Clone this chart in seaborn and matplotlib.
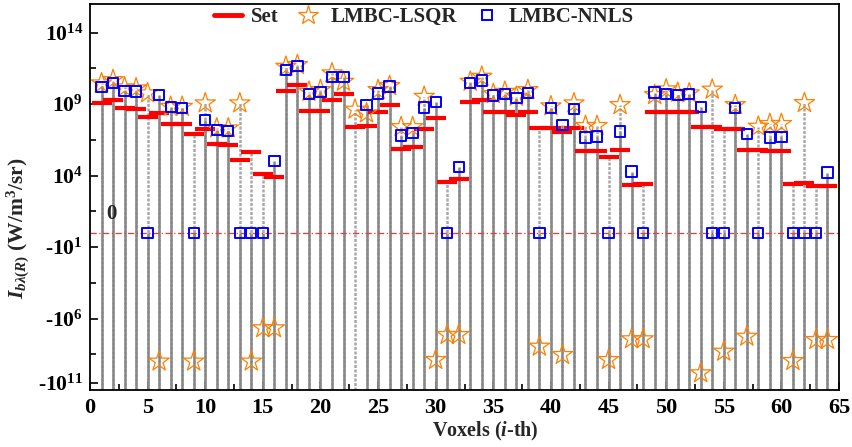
import numpy as np
import pandas as pd
import matplotlib
matplotlib.use("Agg")
import matplotlib.pyplot as plt
import seaborn as sns
from matplotlib.lines import Line2D
from matplotlib.ticker import FixedLocator, MultipleLocator, FixedFormatter

# ---------------- data (values are sign * log10|I|) ----------------
voxels = list(range(1, 65))

set_exp = [9.06, 9.27, 8.70, 8.65, 8.13, 8.41, 7.62, 7.62, 6.90, 7.25,
           6.20, 6.13, 5.10, 5.64, 4.10, 3.93, 9.94, 10.30, 8.55, 8.55,
           9.28, 9.71, 7.43, 7.48, 8.43, 8.96, 5.87, 5.99, 7.29, 8.01,
           3.54, 3.75, 9.13, 9.29, 8.45, 8.45, 8.24, 8.47, 7.31, 7.35,
           7.03, 7.36, 5.75, 5.75, 5.31, 5.80, 3.32, 3.40, 8.48, 8.48,
           8.48, 8.46, 7.38, 7.38, 7.28, 7.28, 5.80, 5.80, 5.72, 5.72,
           3.40, 3.47, 3.28, 3.28]

lsqr_exp = [10.46, 10.69, 10.18, 10.11, 9.76, -9.00, 8.82, 8.82, -9.00, 9.06,
            7.31, 7.31, 9.06, -9.00, -6.67, -6.67, 11.62, 11.74, 9.87, 9.99,
            11.16, 10.57, 8.62, 8.36, 9.99, 10.27, 7.40, 7.40, 9.52, -8.89,
            -7.14, -7.14, 10.57, 10.92, 9.71, 9.87, 9.52, 9.99, -7.96, 8.85,
            -8.54, 9.06, 7.48, 7.48, -8.89, 8.94, -7.44, -7.44, 9.64, 10.04,
            9.80, 9.76, -9.82, 10.02, -8.31, 8.94, -7.26, 7.43, 7.62, 7.62,
            -8.96, 9.08, -7.49, -7.49]

nnls_exp = [10.20, 10.46, 9.92, 9.87, 0.0, 9.64, 8.78, 8.71, 0.0, 7.87,
            7.17, 7.13, 0.0, 0.0, 0.0, 5.03, 11.39, 11.67, 9.71, 9.85,
            10.90, 10.90, np.nan, 8.92, 9.73, 10.22, 6.80, 6.99, 8.76, 9.13,
            0.0, 4.61, 10.46, 10.64, 9.59, 9.71, 9.41, 9.76, 0.0, 8.71,
            7.55, 8.66, 6.66, 6.73, 0.0, 7.08, 4.28, 0.0, 9.80, 9.69,
            9.64, 9.71, 8.78, 0.0, 0.0, 8.71, 6.89, 0.0, 6.66, 6.71,
            0.0, 0.0, 0.0, 4.21]

x_ticks = [0, 5, 10, 15, 20, 25, 30, 35, 40, 45, 50, 55, 60, 65]
y_major = [14, 9, 4, -1, -6, -10.5]
y_tick_labels = [r"$10^{14}$", r"$10^{9}$", r"$10^{4}$",
                 r"-$10^{1}$", r"-$10^{6}$", r"-$10^{11}$"]
y_minor = [11.5, 6.5, 1.5, -3.5, -8.5]
legend_labels = ["Set", "LMBC-LSQR", "LMBC-NNLS"]

# ---------------- style ----------------
sns.set_theme(style="ticks")
plt.rcParams["font.family"] = ["Liberation Serif", "DejaVu Serif"]
plt.rcParams["font.weight"] = "bold"
plt.rcParams["axes.labelweight"] = "bold"
plt.rcParams["mathtext.fontset"] = "custom"
plt.rcParams["mathtext.rm"] = "Liberation Serif:bold"
plt.rcParams["mathtext.it"] = "Liberation Serif:italic:bold"
plt.rcParams["mathtext.bf"] = "Liberation Serif:bold"

df = pd.DataFrame({"voxel": voxels, "set": set_exp,
                   "lsqr": lsqr_exp, "nnls": nnls_exp})

W, H = 852, 447
fig = plt.figure(figsize=(W / 100, H / 100), dpi=100)
ax = fig.add_axes([90 / W, 1 - 390 / H, 749 / W, 386 / H])

ymin, ymax = -11, 16

# drop lines
top_other = np.fmax(df["set"].values, df["lsqr"].values)
ax.vlines(df["voxel"], ymin, top_other, colors="#a8a8a8",
          linestyles=(0, (1.2, 0.6)), linewidth=1.8, zorder=1)
m = df["nnls"].notna()
ax.vlines(df.loc[m, "voxel"], ymin, df.loc[m, "nnls"], colors="#888888",
          linewidth=1.8, zorder=2)

# zero line
ax.axhline(0, color="#ff3030", linestyle=(0, (5, 2, 1, 2)), linewidth=0.9, zorder=2)

# series
sns.scatterplot(data=df, x="voxel", y="set", marker="_", s=215, color="#ff0000",
                linewidth=3.0, ax=ax, zorder=3, legend=False)
sns.scatterplot(data=df, x="voxel", y="lsqr", marker="*", s=235, color="#ff8000",
                facecolor="none", edgecolor="#ff8000", linewidth=0.9,
                ax=ax, zorder=4, legend=False)
sns.scatterplot(data=df, x="voxel", y="nnls", marker="s", s=55, color="#0000ff",
                facecolor="none", edgecolor="#0000ff", linewidth=1.4,
                ax=ax, zorder=5, legend=False)

ax.text(1.9, 1.3, "0", ha="center", va="center", fontsize=15, fontweight="bold")

# axes
ax.set_xlim(0, 65)
ax.set_ylim(ymin, ymax)
ax.xaxis.set_major_locator(FixedLocator(x_ticks))
ax.xaxis.set_minor_locator(MultipleLocator(2.5))
ax.yaxis.set_major_locator(FixedLocator(y_major))
ax.yaxis.set_major_formatter(FixedFormatter(y_tick_labels))
ax.yaxis.set_minor_locator(FixedLocator(y_minor))

ax.tick_params(axis="both", which="both", direction="in", top=False, right=False,
               width=1.2, colors="black")
ax.tick_params(axis="both", which="major", length=6)
ax.tick_params(axis="both", which="minor", length=4)
ax.tick_params(axis="x", labelsize=16, pad=6)
ax.tick_params(axis="y", labelsize=15.5, pad=5)
for lab in ax.get_xticklabels() + ax.get_yticklabels():
    lab.set_fontweight("bold")
for sp in ax.spines.values():
    sp.set_visible(True)
    sp.set_linewidth(1.3)
    sp.set_color("black")

ax.set_xlabel(r"Voxels ($i$-th)", fontsize=14.5, fontweight="bold")
ax.xaxis.set_label_coords((485 - 90) / 749, -0.078)
ax.set_ylabel(r"$I_{b\lambda(R)}$ (W/m$^{3}$/sr)", fontsize=15.5, fontweight="bold")
ax.yaxis.set_label_coords(-0.078, 0.42)

handles = [
    Line2D([], [], color="#ff0000", linewidth=3.5),
    Line2D([], [], color="#ff8000", marker="*", markersize=15, linestyle="",
           markerfacecolor="none", markeredgewidth=0.9),
    Line2D([], [], color="#0000ff", marker="s", markersize=7.5, linestyle="",
           markerfacecolor="none", markeredgewidth=1.4),
]
ax.legend(handles, legend_labels, loc="upper center", bbox_to_anchor=(0.446, 1.04),
          ncol=3, frameon=False, handlelength=1.35, handletextpad=0.4,
          columnspacing=0.75, prop={"family": "Liberation Serif", "weight": "bold",
                                    "size": 15})

fig.savefig("out.png", dpi=100)
